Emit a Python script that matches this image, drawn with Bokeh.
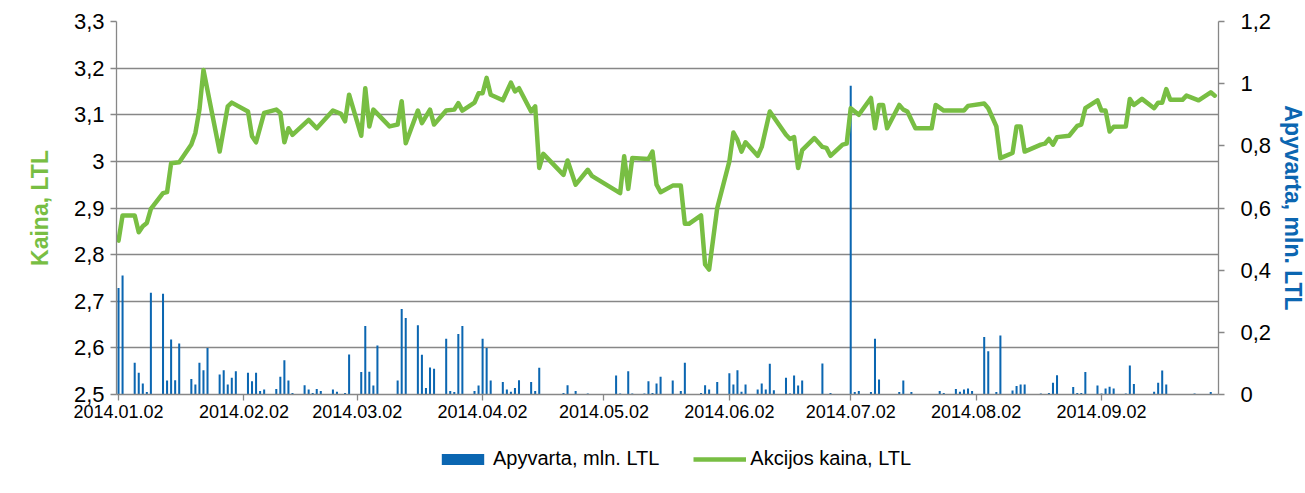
from datetime import datetime
import pandas as pd
from bokeh.plotting import figure
from bokeh.layouts import column
from bokeh.models import (Range1d, LinearAxis, FixedTicker, DatetimeTickFormatter,
                          CustomJSTickFormatter, Legend, LegendItem, ColumnDataSource)
from bokeh.embed import file_html
from bokeh.resources import INLINE

# ---------------- data ----------------
price_dates = [
    "2014-01-02", "2014-01-03", "2014-01-06", "2014-01-07", "2014-01-08", "2014-01-09", "2014-01-10",
    "2014-01-13", "2014-01-14", "2014-01-15", "2014-01-17", "2014-01-20", "2014-01-21", "2014-01-22",
    "2014-01-23", "2014-01-27", "2014-01-29", "2014-01-30", "2014-02-03", "2014-02-04", "2014-02-05",
    "2014-02-07", "2014-02-10", "2014-02-11", "2014-02-12", "2014-02-13", "2014-02-14", "2014-02-18",
    "2014-02-20", "2014-02-24", "2014-02-26", "2014-02-27", "2014-02-28", "2014-03-03", "2014-03-04",
    "2014-03-05", "2014-03-06", "2014-03-10", "2014-03-12", "2014-03-13", "2014-03-14", "2014-03-17",
    "2014-03-18", "2014-03-20", "2014-03-21", "2014-03-24", "2014-03-26", "2014-03-27", "2014-03-28",
    "2014-03-31", "2014-04-01", "2014-04-02", "2014-04-03", "2014-04-04", "2014-04-07", "2014-04-09",
    "2014-04-10", "2014-04-11", "2014-04-14", "2014-04-15", "2014-04-16", "2014-04-17", "2014-04-22",
    "2014-04-23", "2014-04-25", "2014-04-28", "2014-04-29", "2014-05-06", "2014-05-07", "2014-05-08",
    "2014-05-09", "2014-05-13", "2014-05-14", "2014-05-15", "2014-05-16", "2014-05-19", "2014-05-21",
    "2014-05-22", "2014-05-23", "2014-05-26", "2014-05-27", "2014-05-28", "2014-05-30", "2014-06-02",
    "2014-06-03", "2014-06-04", "2014-06-05", "2014-06-06", "2014-06-09", "2014-06-10", "2014-06-12",
    "2014-06-16", "2014-06-17", "2014-06-18", "2014-06-19", "2014-06-20", "2014-06-23", "2014-06-25",
    "2014-06-26", "2014-06-27", "2014-06-30", "2014-07-01", "2014-07-02", "2014-07-04", "2014-07-07",
    "2014-07-08", "2014-07-09", "2014-07-10", "2014-07-11", "2014-07-14", "2014-07-15", "2014-07-16",
    "2014-07-18", "2014-07-22", "2014-07-23", "2014-07-25", "2014-07-30", "2014-07-31", "2014-08-04",
    "2014-08-05", "2014-08-07", "2014-08-08", "2014-08-11", "2014-08-12", "2014-08-13", "2014-08-14",
    "2014-08-18", "2014-08-19", "2014-08-20", "2014-08-21", "2014-08-22", "2014-08-25", "2014-08-27",
    "2014-08-28", "2014-08-29", "2014-09-01", "2014-09-02", "2014-09-03", "2014-09-04", "2014-09-05",
    "2014-09-08", "2014-09-09", "2014-09-10", "2014-09-12", "2014-09-15", "2014-09-16", "2014-09-17",
    "2014-09-18", "2014-09-19", "2014-09-22", "2014-09-23", "2014-09-26", "2014-09-29", "2014-09-30",
]
price_values = [
    2.830, 2.884, 2.884, 2.848, 2.861, 2.868, 2.898,
    2.932, 2.934, 2.996, 2.998, 3.036, 3.061, 3.111,
    3.196, 3.021, 3.118, 3.126, 3.107, 3.054, 3.041,
    3.104, 3.111, 3.104, 3.041, 3.071, 3.057, 3.089,
    3.071, 3.109, 3.102, 3.086, 3.143, 3.055, 3.157,
    3.075, 3.111, 3.075, 3.079, 3.129, 3.039, 3.109,
    3.082, 3.111, 3.079, 3.109, 3.111, 3.125, 3.109,
    3.126, 3.146, 3.146, 3.179, 3.143, 3.131, 3.169,
    3.150, 3.157, 3.107, 3.118, 2.986, 3.016, 2.971,
    3.002, 2.950, 2.982, 2.969, 2.932, 3.011, 2.941,
    3.007, 3.005, 3.021, 2.950, 2.934, 2.948, 2.948,
    2.866, 2.866, 2.884, 2.779, 2.768, 2.900, 3.000,
    3.062, 3.046, 3.021, 3.041, 3.012, 3.031, 3.107,
    3.057, 3.048, 3.052, 2.986, 3.024, 3.050, 3.031,
    3.029, 3.012, 3.036, 3.038, 3.114, 3.100, 3.136,
    3.071, 3.121, 3.121, 3.071, 3.121, 3.111, 3.107,
    3.071, 3.071, 3.121, 3.109, 3.109, 3.119, 3.124,
    3.114, 3.075, 3.007, 3.018, 3.075, 3.075, 3.021,
    3.036, 3.038, 3.048, 3.036, 3.052, 3.055, 3.076,
    3.079, 3.114, 3.131, 3.109, 3.109, 3.064, 3.074,
    3.075, 3.134, 3.121, 3.134, 3.114, 3.126, 3.126,
    3.155, 3.132, 3.132, 3.141, 3.131, 3.148, 3.141,
]

volume_dates = [
    "2014-01-02", "2014-01-03", "2014-01-06", "2014-01-07", "2014-01-08", "2014-01-09", "2014-01-10",
    "2014-01-13", "2014-01-14", "2014-01-15", "2014-01-16", "2014-01-17", "2014-01-20", "2014-01-21",
    "2014-01-22", "2014-01-23", "2014-01-24", "2014-01-27", "2014-01-28", "2014-01-29", "2014-01-30",
    "2014-01-31", "2014-02-03", "2014-02-04", "2014-02-05", "2014-02-06", "2014-02-07", "2014-02-10",
    "2014-02-11", "2014-02-12", "2014-02-13", "2014-02-14", "2014-02-17", "2014-02-18", "2014-02-19",
    "2014-02-20", "2014-02-21", "2014-02-24", "2014-02-25", "2014-02-27", "2014-02-28", "2014-03-03",
    "2014-03-04", "2014-03-05", "2014-03-06", "2014-03-07", "2014-03-12", "2014-03-13", "2014-03-14",
    "2014-03-17", "2014-03-18", "2014-03-19", "2014-03-20", "2014-03-21", "2014-03-24", "2014-03-25",
    "2014-03-26", "2014-03-27", "2014-03-28", "2014-03-31", "2014-04-01", "2014-04-02", "2014-04-03",
    "2014-04-04", "2014-04-07", "2014-04-08", "2014-04-09", "2014-04-10", "2014-04-11", "2014-04-14",
    "2014-04-15", "2014-04-16", "2014-04-22", "2014-04-23", "2014-04-25", "2014-04-28", "2014-04-29",
    "2014-05-05", "2014-05-06", "2014-05-08", "2014-05-09", "2014-05-12", "2014-05-13", "2014-05-14",
    "2014-05-15", "2014-05-16", "2014-05-19", "2014-05-21", "2014-05-22", "2014-05-26", "2014-05-27",
    "2014-05-28", "2014-05-30", "2014-06-02", "2014-06-03", "2014-06-04", "2014-06-05", "2014-06-06",
    "2014-06-09", "2014-06-10", "2014-06-11", "2014-06-12", "2014-06-13", "2014-06-16", "2014-06-17",
    "2014-06-18", "2014-06-19", "2014-06-20", "2014-06-23", "2014-06-25", "2014-06-27", "2014-07-01",
    "2014-07-02", "2014-07-03", "2014-07-04", "2014-07-07", "2014-07-08", "2014-07-09", "2014-07-14",
    "2014-07-15", "2014-07-17", "2014-07-21", "2014-07-22", "2014-07-24", "2014-07-25", "2014-07-28",
    "2014-07-29", "2014-07-30", "2014-07-31", "2014-08-01", "2014-08-04", "2014-08-05", "2014-08-07",
    "2014-08-08", "2014-08-11", "2014-08-12", "2014-08-13", "2014-08-14", "2014-08-18", "2014-08-20",
    "2014-08-21", "2014-08-22", "2014-08-26", "2014-08-27", "2014-08-28", "2014-08-29", "2014-09-01",
    "2014-09-02", "2014-09-03", "2014-09-04", "2014-09-05", "2014-09-08", "2014-09-09", "2014-09-10",
    "2014-09-15", "2014-09-16", "2014-09-17", "2014-09-18", "2014-09-23", "2014-09-25", "2014-09-29",
]
volume_values = [
    0.343, 0.383, 0.102, 0.070, 0.035, 0.008, 0.327,
    0.324, 0.045, 0.177, 0.046, 0.164, 0.050, 0.032,
    0.102, 0.078, 0.150, 0.064, 0.078, 0.032, 0.054,
    0.075, 0.070, 0.043, 0.070, 0.011, 0.016, 0.018,
    0.057, 0.110, 0.045, 0.005, 0.030, 0.016, 0.005,
    0.018, 0.011, 0.016, 0.009, 0.005, 0.129, 0.072,
    0.220, 0.073, 0.029, 0.158, 0.045, 0.275, 0.246,
    0.223, 0.128, 0.021, 0.087, 0.083, 0.179, 0.011,
    0.008, 0.195, 0.220, 0.011, 0.029, 0.179, 0.150,
    0.045, 0.040, 0.016, 0.009, 0.021, 0.046, 0.040,
    0.011, 0.086, 0.005, 0.030, 0.011, 0.003, 0.002,
    0.061, 0.003, 0.075, 0.003, 0.003, 0.043, 0.005,
    0.035, 0.057, 0.045, 0.011, 0.102, 0.005, 0.030,
    0.016, 0.040, 0.068, 0.032, 0.078, 0.009, 0.032,
    0.016, 0.035, 0.016, 0.099, 0.014, 0.054, 0.003,
    0.061, 0.029, 0.045, 0.002, 0.100, 0.005, 0.002,
    0.993, 0.008, 0.011, 0.008, 0.179, 0.048, 0.008,
    0.045, 0.008, 0.001, 0.001, 0.011, 0.005, 0.018,
    0.009, 0.016, 0.019, 0.011, 0.185, 0.139, 0.008,
    0.190, 0.013, 0.027, 0.032, 0.032, 0.003, 0.005,
    0.038, 0.062, 0.024, 0.005, 0.005, 0.072, 0.029,
    0.003, 0.019, 0.025, 0.019, 0.003, 0.093, 0.034,
    0.009, 0.038, 0.077, 0.032, 0.001, 0.003, 0.008,
]

x_tick_labels = ["2014.01.02", "2014.02.02", "2014.03.02", "2014.04.02", "2014.05.02",
                 "2014.06.02", "2014.07.02", "2014.08.02", "2014.09.02"]
price_ticks = [2.5, 2.6, 2.7, 2.8, 2.9, 3.0, 3.1, 3.2, 3.3]
volume_ticks = [0, 0.2, 0.4, 0.6, 0.8, 1.0, 1.2]

series_names = ["Apyvarta, mln. LTL", "Akcijos kaina, LTL"]
left_title = "Kaina, LTL"
right_title = "Apyvarta, mln. LTL"

# ---------------- styling ----------------
GREEN = "#78BE43"
BLUE = "#0B66B1"
GRID = "#878787"
FONT = "Liberation Sans"

price_src = ColumnDataSource(dict(date=pd.to_datetime(price_dates), price=price_values))
vol_src = ColumnDataSource(dict(date=pd.to_datetime(volume_dates), vol=volume_values))

x_start = datetime(2014, 1, 1, 12)
x_end = datetime(2014, 9, 30, 22)
shared_x = Range1d(x_start, x_end)

p = figure(frame_width=1102, frame_height=373, x_axis_type="datetime",
           x_range=shared_x, y_range=Range1d(2.5, 3.3),
           output_backend="svg", toolbar_location=None,
           min_border_left=116, min_border_right=84, min_border_top=21, min_border_bottom=40)
p.outline_line_color = None
p.background_fill_color = "white"
p.border_fill_color = "white"

p.extra_y_ranges = {"vol": Range1d(0, 1.2)}

# grid
p.xgrid.grid_line_color = None
p.ygrid.grid_line_color = GRID
p.ygrid.grid_line_width = 1.3
p.ygrid.ticker = FixedTicker(ticks=price_ticks)

# x axis
xa = p.xaxis[0]
tick_ms = [pd.Timestamp(datetime.strptime(s, "%Y.%m.%d")).value // 10**6 for s in x_tick_labels]
xa.ticker = FixedTicker(ticks=tick_ms)
fmt = "%Y.%m.%d"
xa.formatter = DatetimeTickFormatter(days=fmt, months=fmt, years=fmt, hours=fmt, minutes=fmt)
xa.minor_tick_line_color = None
xa.major_tick_out = 6
xa.major_tick_in = 0
xa.axis_line_color = GRID
xa.axis_line_width = 1.3
xa.major_tick_line_color = GRID
xa.major_tick_line_width = 1.3
xa.major_label_text_font = FONT
xa.major_label_text_font_size = "18px"
xa.major_label_text_color = "black"
xa.major_label_standoff = 4

comma_code = "return (Math.round(tick*10)/10).toString().replace('.', ',');"

# left axis
ya = p.yaxis[0]
ya.ticker = FixedTicker(ticks=price_ticks)
ya.formatter = CustomJSTickFormatter(code=comma_code)
ya.minor_tick_line_color = None
ya.major_tick_out = 6
ya.major_tick_in = 0
ya.axis_line_color = GRID
ya.axis_line_width = 1.3
ya.major_tick_line_color = GRID
ya.major_tick_line_width = 1.3
ya.major_label_text_font = FONT
ya.major_label_text_font_size = "22px"
ya.major_label_text_color = "black"
ya.major_label_standoff = 6
ya.axis_label = left_title
ya.axis_label_text_font = FONT
ya.axis_label_text_font_style = "bold"
ya.axis_label_text_font_size = "23px"
ya.axis_label_text_color = GREEN
ya.axis_label_standoff = 18

# right axis
ra = LinearAxis(y_range_name="vol", ticker=FixedTicker(ticks=volume_ticks),
                formatter=CustomJSTickFormatter(code=comma_code))
ra.minor_tick_line_color = None
ra.major_tick_out = 6
ra.major_tick_in = 0
ra.axis_line_color = GRID
ra.axis_line_width = 1.3
ra.major_tick_line_color = GRID
ra.major_tick_line_width = 1.3
ra.major_label_text_font = FONT
ra.major_label_text_font_size = "22px"
ra.major_label_text_color = "black"
ra.major_label_standoff = 16
ra.axis_label = right_title
ra.axis_label_text_font = FONT
ra.axis_label_text_font_style = "bold"
ra.axis_label_text_font_size = "23px"
ra.axis_label_text_color = BLUE
ra.axis_label_standoff = 6
p.add_layout(ra, "right")

# glyphs
p.vbar(x="date", top="vol", bottom=0, width=0.5 * 86400000, source=vol_src,
       y_range_name="vol", fill_color=BLUE, line_color=None)
p.line(x="date", y="price", source=price_src, line_color=GREEN, line_width=4.5,
       line_join="round", line_cap="round")

# ---------------- legend strip (separate figure below the chart) ----------------
# same x range; the y range lies above every data value, so the proxy renderers
# are clipped away and only feed the legend swatches
lf = figure(width=1300, height=50, x_axis_type="datetime", x_range=shared_x,
            y_range=Range1d(100, 101),
            output_backend="svg", toolbar_location=None,
            min_border_left=0, min_border_right=0, min_border_top=0, min_border_bottom=0)
lf.axis.visible = False
lf.grid.visible = False
lf.outline_line_color = None
lf.background_fill_color = "white"
lf.border_fill_color = "white"
lg_bar = lf.vbar(x="date", top="vol", bottom=0, width=0.5 * 86400000, source=vol_src,
                 fill_color=BLUE, line_color=None)
lg_line = lf.line(x="date", y="price", source=price_src, line_color=GREEN, line_width=4.5)

legend = Legend(items=[LegendItem(label=series_names[0], renderers=[lg_bar]),
                       LegendItem(label=series_names[1], renderers=[lg_line])],
                orientation="horizontal", location=(320, 14),
                padding=0, margin=0, spacing=34, label_standoff=4,
                glyph_width=53, glyph_height=14,
                border_line_color=None, background_fill_alpha=0,
                label_text_font=FONT, label_text_font_size="20px", label_text_color="black")
lf.add_layout(legend, "center")

layout = column(p, lf, spacing=0)

open("out.html", "w").write(file_html(layout, INLINE))
